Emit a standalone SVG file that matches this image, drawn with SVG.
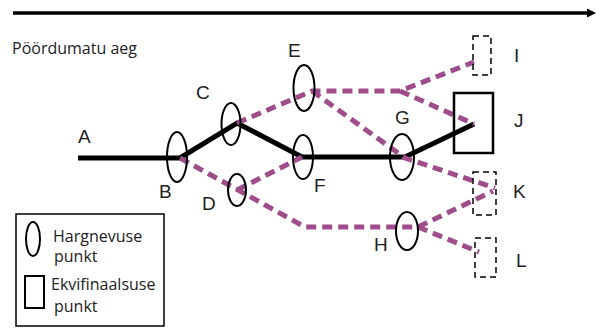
<svg xmlns="http://www.w3.org/2000/svg" width="596" height="328" viewBox="0 0 596 328">
<style>
.lbl{font-family:"Liberation Sans",Arial,sans-serif;font-size:19px;fill:#222}
.txt{font-family:"Open Sans","Noto Sans",sans-serif;font-size:16px;fill:#222}
.node{fill:none;stroke:#000;stroke-width:2}
.dbox{fill:none;stroke:#000;stroke-width:1.5;stroke-dasharray:6 4}
.solid{fill:none;stroke:#000;stroke-width:5;stroke-linejoin:miter}
.dash{fill:none;stroke:#9E4D8A;stroke-width:5;stroke-dasharray:10 6}
</style>
<rect width="596" height="328" fill="#fff"/>
<g id="time-axis">
<line x1="13" y1="13" x2="589" y2="13" stroke="#000" stroke-width="3.5"/>
<polygon points="587,8.5 596,13 587,17.5" fill="#000"/>
<text class="txt" x="12" y="54">Pöördumatu aeg</text>
</g>
<g id="connectors">
<path class="solid" d="M78,158 H180 L237,123 L302,157 H405 L474,124"/>
<path class="dash" d="M237,123 L312,91 H400 L474,62"/>
<path class="dash" d="M400,91 L474,124"/>
<path class="dash" d="M312,91 L405,158 L495,188"/>
<path class="dash" d="M180,158 L305,227 H418 L493,191"/>
<path class="dash" d="M418,227 L479,252"/>
<path class="dash" d="M237,190 L302,157"/>
</g>
<g id="A"><text class="lbl" x="78" y="143">A</text></g>
<g id="B"><ellipse class="node" cx="177" cy="157" rx="10" ry="25"/><text class="lbl" x="159" y="198">B</text></g>
<g id="C"><ellipse class="node" cx="231" cy="124" rx="9.5" ry="21"/><text class="lbl" x="196" y="99">C</text></g>
<g id="D"><ellipse class="node" cx="237" cy="190" rx="9" ry="16"/><text class="lbl" x="202" y="210">D</text></g>
<g id="E"><ellipse class="node" cx="304" cy="88" rx="10.5" ry="23"/><text class="lbl" x="288" y="57">E</text></g>
<g id="F"><ellipse class="node" cx="303" cy="157" rx="10" ry="22"/><text class="lbl" x="314" y="192">F</text></g>
<g id="G"><ellipse class="node" cx="402" cy="157" rx="12" ry="23"/><text class="lbl" x="395" y="124">G</text></g>
<g id="H"><ellipse class="node" cx="407" cy="231" rx="11" ry="19"/><text class="lbl" x="374" y="251">H</text></g>
<g id="I"><rect class="dbox" x="473" y="36" width="18" height="39"/><text class="lbl" x="514" y="62">I</text></g>
<g id="J"><rect x="454" y="93" width="39" height="60" fill="none" stroke="#000" stroke-width="2.5"/><text class="lbl" x="514" y="127">J</text></g>
<g id="K"><rect class="dbox" x="473" y="172" width="23" height="43"/><text class="lbl" x="513" y="198">K</text></g>
<g id="L"><rect class="dbox" x="475" y="238" width="21" height="39"/><text class="lbl" x="516" y="267">L</text></g>
<g id="legend">
<rect x="16" y="214" width="148" height="112" fill="none" stroke="#000" stroke-width="1.5"/>
<ellipse class="node" cx="33" cy="239" rx="7" ry="17"/>
<text class="txt" x="53" y="242">Hargnevuse</text>
<text class="txt" x="54" y="262">punkt</text>
<rect x="25" y="276" width="19" height="32" fill="none" stroke="#000" stroke-width="2"/>
<text class="txt" x="51" y="290">Ekvifinaalsuse</text>
<text class="txt" x="54" y="312">punkt</text>
</g>
</svg>
